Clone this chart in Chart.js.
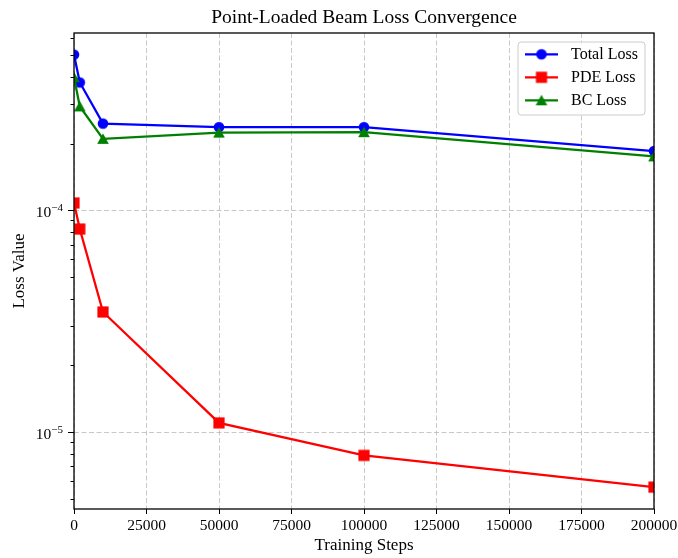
<!DOCTYPE html>
<html>
<head>
<meta charset="utf-8">
<script src="https://cdn.jsdelivr.net/npm/chart.js@4.4.1/dist/chart.umd.min.js"></script>
<style>html,body{margin:0;padding:0;background:#fff;}canvas{display:block;}</style>
</head>
<body>
<canvas id="c" width="678" height="558"></canvas>
<script>
// ---- data ----
const steps = [0, 2000, 10000, 50000, 100000, 200000];
const totalLoss = [5.03e-4, 3.77e-4, 2.46e-4, 2.37e-4, 2.37e-4, 1.85e-4];
const pdeLoss = [1.079e-4, 8.23e-5, 3.48e-5, 1.10e-5, 7.85e-6, 5.65e-6];
const bcLoss = [3.98e-4, 2.94e-4, 2.10e-4, 2.24e-4, 2.25e-4, 1.75e-4];
const seriesNames = ['Total Loss', 'PDE Loss', 'BC Loss'];
const xTickValues = [0, 25000, 50000, 75000, 100000, 125000, 150000, 175000, 200000];
const yMajorTicks = [1e-5, 1e-4];
const yMajorExponents = ['\u22125', '\u22124'];
const yMinorTicks = [5e-6, 6e-6, 7e-6, 8e-6, 9e-6, 2e-5, 3e-5, 4e-5, 5e-5, 6e-5, 7e-5, 8e-5, 9e-5, 2e-4, 3e-4, 4e-4, 5e-4, 6e-4];
const yMin = 4.5e-6, yMax = 6.3e-4;
const xMin = 0, xMax = 200000;
const chartTitle = 'Point-Loaded Beam Loss Convergence';
const xTitle = 'Training Steps';
const yTitle = 'Loss Value';

const FONT = "'Liberation Serif', 'Times New Roman', serif";
Chart.defaults.font.family = FONT;
Chart.defaults.color = '#000';

function makeMarker(kind, color) {
  const c = document.createElement('canvas');
  c.width = 16; c.height = 16;
  const g = c.getContext('2d');
  g.fillStyle = color;
  g.beginPath();
  if (kind === 'circle') {
    g.arc(8, 8, 5.3, 0, Math.PI * 2);
  } else if (kind === 'square') {
    g.rect(8 - 5.6, 8 - 5.6, 11.2, 11.2);
  } else {
    g.moveTo(8, 8 - 5.6);
    g.lineTo(8 + 5.8, 8 + 5.0);
    g.lineTo(8 - 5.8, 8 + 5.0);
    g.closePath();
  }
  g.fill();
  return c;
}

const colors = ['#0000ff', '#ff0000', '#008000'];
const markers = [makeMarker('circle', colors[0]), makeMarker('square', colors[1]), makeMarker('triangle', colors[2])];
const seriesValues = [totalLoss, pdeLoss, bcLoss];

const datasets = seriesNames.map((name, k) => ({
  label: name,
  data: steps.map((x, i) => ({x: x, y: seriesValues[k][i]})),
  borderColor: colors[k],
  backgroundColor: colors[k],
  borderWidth: 2.3,
  pointStyle: markers[k],
  pointRadius: 6,
  pointHoverRadius: 6,
  tension: 0,
  fill: false,
  clip: 0,
  order: 2 - k
}));

const isMajor = v => yMajorTicks.some(m => Math.abs(m - v) / m < 1e-6);

const decor = {
  id: 'decor',
  beforeDraw(chart) {
    const ctx = chart.ctx;
    ctx.save();
    ctx.fillStyle = '#fff';
    ctx.fillRect(0, 0, chart.width, chart.height);
    ctx.restore();
  },
  afterDraw(chart) {
    const ctx = chart.ctx;
    const a = chart.chartArea;
    const ys = chart.scales.y;
    ctx.save();
    // spines
    ctx.strokeStyle = '#000';
    ctx.lineWidth = 1.3;
    ctx.strokeRect(a.left, a.top, a.right - a.left, a.bottom - a.top);
    // y tick marks
    ctx.lineWidth = 1;
    yMinorTicks.concat(yMajorTicks).forEach(v => {
      const y = Math.round(ys.getPixelForValue(v)) + 0.5;
      const len = isMajor(v) ? 6 : 3.5;
      ctx.beginPath();
      ctx.moveTo(a.left - len, y);
      ctx.lineTo(a.left, y);
      ctx.stroke();
    });
    // y tick labels 10^n
    ctx.fillStyle = '#000';
    ctx.textBaseline = 'alphabetic';
    ctx.textAlign = 'left';
    const R = 63;
    yMajorTicks.forEach((v, i) => {
      const y = ys.getPixelForValue(v);
      ctx.font = '11px ' + FONT;
      const w2 = ctx.measureText(yMajorExponents[i]).width;
      ctx.font = '15.5px ' + FONT;
      const w1 = ctx.measureText('10').width;
      ctx.fillText('10', R - w2 - w1, y + 6.5);
      ctx.font = '11px ' + FONT;
      ctx.fillText(yMajorExponents[i], R - w2, y + 0.5);
    });
    // title
    ctx.font = '19.5px ' + FONT;
    ctx.textAlign = 'center';
    ctx.fillText(chartTitle, (a.left + a.right) / 2, 23.3);
    // legend
    const bx = 518, by = 42, bw = 127, bh = 73, r = 3;
    ctx.beginPath();
    ctx.moveTo(bx + r, by);
    ctx.arcTo(bx + bw, by, bx + bw, by + bh, r);
    ctx.arcTo(bx + bw, by + bh, bx, by + bh, r);
    ctx.arcTo(bx, by + bh, bx, by, r);
    ctx.arcTo(bx, by, bx + bw, by, r);
    ctx.closePath();
    ctx.fillStyle = 'rgba(255,255,255,0.8)';
    ctx.fill();
    ctx.strokeStyle = '#cccccc';
    ctx.lineWidth = 1;
    ctx.stroke();
    chart.data.datasets.forEach((ds, i) => {
      const ry = 54.3 + 23 * i;
      ctx.strokeStyle = ds.borderColor;
      ctx.lineWidth = ds.borderWidth;
      ctx.beginPath();
      ctx.moveTo(525, ry);
      ctx.lineTo(558, ry);
      ctx.stroke();
      const m = ds.pointStyle;
      ctx.drawImage(m, 541.5 - m.width / 2, ry - m.height / 2);
      ctx.fillStyle = '#000';
      ctx.font = '16px ' + FONT;
      ctx.textAlign = 'left';
      ctx.textBaseline = 'middle';
      ctx.fillText(ds.label, 571, ry + 0.5);
    });
    ctx.restore();
  }
};

new Chart(document.getElementById('c'), {
  type: 'line',
  data: {datasets: datasets},
  options: {
    responsive: false,
    devicePixelRatio: 1,
    animation: false,
    events: [],
    layout: {padding: {top: 33, right: 24, bottom: 0, left: 0}},
    plugins: {legend: {display: false}, tooltip: {enabled: false}, title: {display: false}},
    scales: {
      x: {
        type: 'linear',
        min: xMin,
        max: xMax,
        afterBuildTicks: s => { s.ticks = xTickValues.map(v => ({value: v})); },
        afterFit: s => { s.height = 49; s.paddingLeft = 0; s.paddingRight = 0; },
        ticks: {
          font: {size: 15.5, family: FONT},
          color: '#000',
          padding: 3,
          maxRotation: 0,
          autoSkip: false,
          callback: v => String(v)
        },
        grid: {
          color: 'rgba(176,176,176,0.7)',
          lineWidth: 1,
          drawTicks: true,
          tickLength: 5,
          tickColor: '#000',
          tickWidth: 1
        },
        border: {display: false, dash: [5, 2.5]},
        title: {
          display: true,
          text: xTitle,
          font: {size: 17, family: FONT},
          color: '#000',
          padding: {top: 0, bottom: 2.5}
        }
      },
      y: {
        type: 'logarithmic',
        min: yMin,
        max: yMax,
        afterBuildTicks: s => { s.ticks = yMinorTicks.concat(yMajorTicks).sort((p, q) => p - q).map(v => ({value: v})); },
        afterFit: s => { s.width = 74; s.paddingTop = 0; s.paddingBottom = 0; },
        ticks: {display: false},
        grid: {
          color: c => (c.tick && isMajor(c.tick.value)) ? 'rgba(176,176,176,0.7)' : 'rgba(0,0,0,0)',
          lineWidth: 1,
          drawTicks: false
        },
        border: {display: false, dash: [5, 2.5]},
        title: {
          display: true,
          text: yTitle,
          font: {size: 17, family: FONT},
          color: '#000',
          padding: {top: 9, bottom: 0}
        }
      }
    }
  },
  plugins: [decor]
});
</script>
</body>
</html>
